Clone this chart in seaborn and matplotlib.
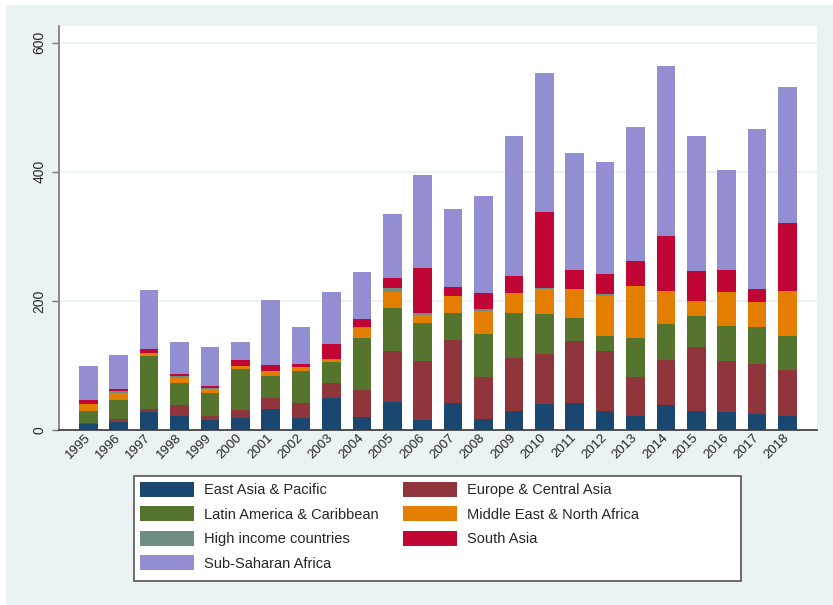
import numpy as np
import pandas as pd
import matplotlib
matplotlib.use("Agg")
import matplotlib.pyplot as plt
from matplotlib.patches import Patch, Rectangle
import seaborn as sns

# --- data ---
years = [str(y) for y in range(1995, 2019)]
east_asia = [10, 12, 28, 22, 15, 19, 33, 19, 50, 20, 43, 16, 42, 17, 30, 40, 42, 30, 22, 39, 30, 28, 25, 22]
europe_ca = [1, 5, 5, 17, 6, 12, 17, 23, 23, 42, 79, 91, 98, 65, 82, 78, 96, 93, 60, 70, 98, 79, 78, 71]
latin_am = [18, 29, 82, 34, 37, 64, 34, 50, 32, 81, 67, 59, 42, 67, 70, 62, 36, 22, 60, 56, 48, 54, 56, 53]
mid_east = [12, 12, 5, 8, 6, 4, 8, 5, 3, 15, 25, 12, 25, 36, 31, 39, 45, 63, 81, 51, 23, 53, 40, 70]
high_inc = [0, 2, 0, 3, 1, 0, 0, 0, 2, 1, 6, 3, 0, 2, 0, 1, 0, 2, 0, 0, 1, 0, 0, 0]
south_asia = [5, 3, 6, 3, 3, 9, 9, 5, 23, 13, 16, 70, 14, 26, 26, 118, 29, 31, 39, 84, 47, 34, 20, 105]
ssa = [53, 53, 91, 49, 60, 28, 101, 57, 81, 73, 99, 144, 122, 150, 217, 215, 181, 175, 208, 264, 208, 155, 248, 211]

regions = ["East Asia & Pacific", "Europe & Central Asia", "Latin America & Caribbean",
           "Middle East & North Africa", "High income countries", "South Asia",
           "Sub-Saharan Africa"]
series = [east_asia, europe_ca, latin_am, mid_east, high_inc, south_asia, ssa]
colors = ["#1a476f", "#90353b", "#55752f", "#e37e00", "#6e8e84", "#c10534", "#938dd2"]

BG = "#eaf2f3"

sns.set_theme(style="white")
plt.rcParams["font.family"] = ["Liberation Sans", "DejaVu Sans"]

fig = plt.figure(figsize=(8.33, 6.05), dpi=100)
fig.patch.set_facecolor("white")
fig.patches.append(Rectangle((6 / 833, 0), 1, 1 - 5 / 605, transform=fig.transFigure,
                             facecolor=BG, edgecolor="none", zorder=-10))

ax = fig.add_axes([59 / 833, 1 - 430 / 605, (817 - 59) / 833, (430 - 26) / 605])
ax.set_facecolor("white")

# stacked bars: draw cumulative totals from the top layer down
df = pd.DataFrame(dict(zip(regions, series)), index=years)
cum = df.cumsum(axis=1)
for name, col in reversed(list(zip(regions, colors))):
    sns.barplot(x=years, y=cum[name].values, color=col, saturation=1,
                width=0.615, ax=ax, zorder=3, linewidth=0)

ax.set_xlim(-0.965, 23.97)
ax.set_ylim(0, 626)
ax.set_yticks([0, 200, 400, 600])
ax.set_yticklabels(["0", "200", "400", "600"], rotation=90, va="center", fontsize=10)
for y in [200, 400, 600]:
    ax.axhline(y, color=BG, lw=1.3, zorder=1)
ax.tick_params(axis="y", length=5, width=1, color="#777777", pad=4, left=True)
ax.tick_params(axis="x", length=0, pad=4)
ax.set_xticks(range(len(years)))
ax.set_xticklabels(years, rotation=45, ha="right", rotation_mode="anchor",
                   va="center", fontsize=9.5)

for s in ["top", "right"]:
    ax.spines[s].set_visible(False)
ax.spines["left"].set_color("#777777")
ax.spines["left"].set_linewidth(1.2)
ax.spines["bottom"].set_color("#333333")
ax.spines["bottom"].set_linewidth(1.2)
ax.set_xlabel("")
ax.set_ylabel("")

# legend box (Stata draws it wider than its content)
fig.patches.append(Rectangle((134 / 833, 1 - 581 / 605), (741 - 134) / 833, (581 - 476) / 605,
                             transform=fig.transFigure, facecolor="white",
                             edgecolor="#555555", linewidth=1.2, zorder=-5))

# legend filled row-wise like the reference
handles = [Patch(facecolor=c, edgecolor="none", label=r) for r, c in zip(regions, colors)]
order = [0, 2, 4, 6, 1, 3, 5]
leg = fig.legend([handles[i] for i in order], [regions[i] for i in order],
                 loc="upper left", bbox_to_anchor=(134 / 833, 1 - 476 / 605),
                 ncol=2, fontsize=10.5, frameon=False,
                 handlelength=3.7, handleheight=1.2, handletextpad=0.7,
                 labelspacing=0.62, columnspacing=1.65, borderpad=0.4,
                 borderaxespad=0)

fig.savefig("out.png", dpi=100, facecolor=fig.get_facecolor())
